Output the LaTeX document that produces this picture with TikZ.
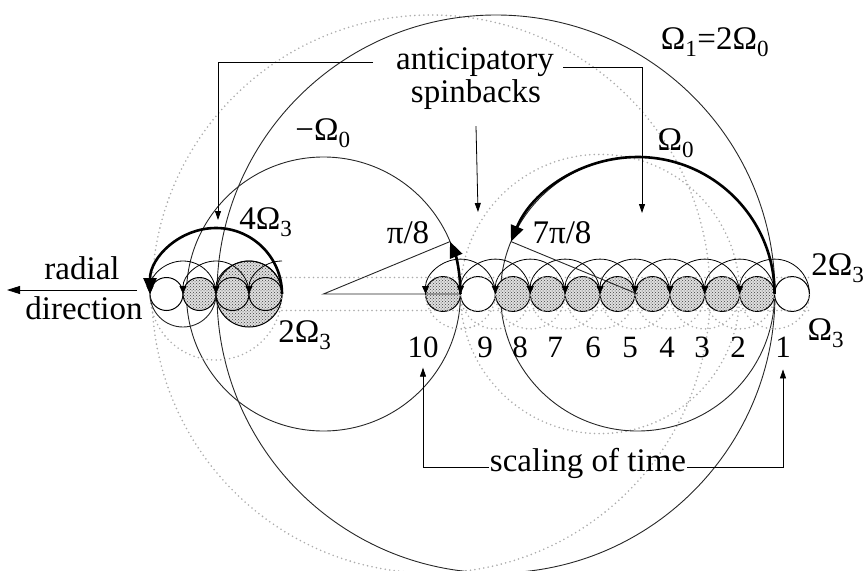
\documentclass[tikz,border=0pt]{standalone}
\usepackage{fontspec}
\setmainfont{Liberation Serif}
\usetikzlibrary{arrows.meta,patterns,calc}

\begin{document}
\begin{tikzpicture}[x=1pt,y=-1pt,>={Triangle[length=9pt,width=6pt]}]
	%---------------- Styles ----------------
	\tikzset{
		orbit/.style={line width=0.9pt, black!85},                       % thin solid circles
		orbitdot/.style={gray!65, line width=1.8pt, line cap=round,
			dash pattern=on 0pt off 4.5pt},                               % dotted circles
		spin/.style={line width=2.6pt, -{Triangle[length=16pt,width=13pt]}}, % thick spin arrows
		roll/.style={line width=0.8pt, -{Triangle[length=8pt,width=7pt]}},   % small rolling arcs
		pointer/.style={line width=0.8pt, ->},                          % label pointers
		ball/.style={circle, inner sep=0pt, outer sep=0pt, draw, line width=1pt,
			preaction={fill=gray!25}, pattern=crosshatch dots, pattern color=black!75},
		blank/.style={circle, inner sep=0pt, outer sep=0pt, draw, line width=1pt, fill=white},
		lbl/.style={font=\fontsize{33}{36}\selectfont, inner sep=1pt},
		num/.style={font=\fontsize{31}{34}\selectfont, inner sep=1pt},
	}
	\def\rowy{294}   % centre line of the rolling balls
	
	\useasboundingbox (0,0) rectangle (867,570);
	
	%---------------- Orbit centres ----------------
	\coordinate (cbig)  at (496,\rowy);    % Omega_1
	\coordinate (cbigd) at (431,\rowy);    % dotted copy
	\coordinate (cneg)  at (323.45,\rowy); % -Omega_0
	\coordinate (cpos)  at (637.55,\rowy); % Omega_0
	\coordinate (cposd) at (600,\rowy);    % dotted copy
	
	%---------------- Large circles ----------------
	\draw[orbitdot] (cbigd) circle (279pt);
	\draw[orbitdot] (cposd) circle (139.6pt);
	\draw[orbit] (cbig) circle (279pt);
	\draw[orbit] (cneg) circle (137pt);
	\draw[orbit] (cpos) circle (137pt);
	
	%---------------- Left cluster ----------------
	\node[ball, minimum size=66pt] (lbig) at (249,\rowy) {};
	\foreach \k/\sty in {0/blank,1/ball,2/ball,3/ball}
		\node[\sty, minimum size=33pt] (l\k) at (166.5+33*\k,\rowy) {};
	
	%---------------- Right chain ----------------
	\foreach \k/\sty in {0/ball,1/blank,2/ball,3/ball,4/ball,5/ball,6/ball,7/ball,8/ball,9/ball,10/blank}
		\node[\sty, minimum size=34.9pt] (r\k) at (443+34.9*\k,\rowy) {};
	
	%---------------- Lower arcs (Omega_3) ----------------
	\foreach \k in {1,...,10}
		\draw[orbitdot] (r\k.east) arc[start angle=0, end angle=-180, radius=34.9pt];
	\draw[orbitdot] (l3.east) arc[start angle=0, end angle=-180, radius=66pt];
	\draw[orbit] (l1.east) arc[start angle=0, end angle=-180, radius=33pt];
	
	%---------------- Upper arcs (2 Omega_3) ----------------
	\foreach \k in {1,...,10}
		\draw[roll] (r\k.east) arc[start angle=0, end angle=180, radius=34.9pt];
	\foreach \k in {1,2,3}
		\draw[roll] (l\k.east) arc[start angle=0, end angle=180, radius=33pt];
	\draw[roll] ([yshift=33pt]l3.east) arc[start angle=90, end angle=180, radius=33pt];
	
	%---------------- Row guides ----------------
	\draw[orbitdot] (l3.east |- l3.north) -- (r10.east |- l3.north);
	\draw[orbitdot] (l3.east |- l3.south) -- (r10.east |- l3.south);
	
	%---------------- Angles pi/8 and 7pi/8 ----------------
	\coordinate (tipA) at ($(cneg)+(22.5:137pt)$);
	\coordinate (tipB) at ($(cpos)+(157.5:137pt)$);
	\draw[orbit] (tipA) -- (cneg) -- (r0.east);
	\draw[orbit] (tipB) -- (cpos);
	
	%---------------- Thick spin arrows ----------------
	\draw[spin] (r0.east) arc[start angle=0, end angle=22.5, radius=137pt];
	\draw[spin] (r9.east) arc[start angle=0, end angle=157.5, radius=137pt];
	\draw[spin] (l3.east) arc[start angle=0, end angle=180, radius=66pt];
	
	%---------------- Labels ----------------
	\node[lbl] (anticip) at (475,62) {anticipatory};
	\node[lbl] (spinbk)  at (476,95) {spinbacks};
	\node[lbl] (om1)     at (715,42) {Ω\textsubscript{1}=2Ω\textsubscript{0}};
	\node[lbl] (negom)   at (323,133) {−Ω\textsubscript{0}};
	\node[lbl] (om0)     at (676,143) {Ω\textsubscript{0}};
	\node[lbl] (fourom)  at (266,222) {4Ω\textsubscript{3}};
	\node[lbl] (pi8)     at (408,233) {π/8};
	\node[lbl] (pi78)    at (562,233) {7π/8};
	\node[lbl] (twoomR)  at (838,268) {2Ω\textsubscript{3}};
	\node[lbl] (twoomL)  at (305,335) {2Ω\textsubscript{3}};
	\node[lbl] (omR)     at (826,333) {Ω\textsubscript{3}};
	\node[lbl] (radial)  at (82,268) {radial};
	\node[lbl] (direct)  at (84,308) {direction};
	\node[lbl] (scaling) at (588,463) {scaling of time};
	\foreach \n/\x in {1/783,2/738,3/702,4/667,5/630,6/593,7/555,8/520,9/485,10/423}
		\node[num] (lab\n) at (\x,347) {\n};
	
	%---------------- Pointers ----------------
	\coordinate (spinL) at (218,220);
	\coordinate (spinM) at (478,212);
	\coordinate (spinR) at (642,213);
	\draw[pointer] ([xshift=-22pt]anticip.west) -| (spinL);
	\draw[pointer] ([yshift=-15pt]spinbk.south) -- (spinM);
	\draw[pointer] ([xshift=8pt,yshift=-5pt]anticip.east) -| (spinR);
	\draw[pointer] ([yshift=-4pt]scaling.west) -| ([yshift=-9pt]lab10.south);
	\draw[pointer] ([yshift=-4pt]scaling.east) -| ([yshift=-11pt]lab1.south);
	
	\coordinate (radT) at (137,290);
	\coordinate (radH) at (7,290);
	\draw[line width=0.8pt, -{Triangle[length=13pt,width=8pt]}] (radT) -- (radH);
\end{tikzpicture}
\end{document}
